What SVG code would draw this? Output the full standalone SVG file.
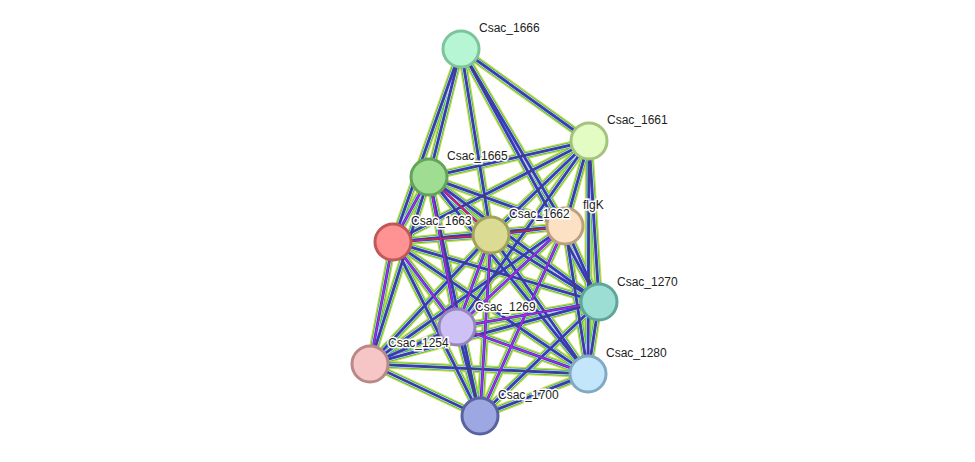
<svg xmlns="http://www.w3.org/2000/svg" xmlns:xlink="http://www.w3.org/1999/xlink" width="975" height="462" viewBox="0 0 975 462">
<style>
.y{stroke:#c5d64a;stroke-width:8}
.g{stroke:#2fc22f;stroke-width:5.5}
.w{stroke:#fff;stroke-width:4}
.b{stroke:#3a3af0;stroke-width:3}
.k{stroke:#444;stroke-width:1}
.n circle{stroke-width:3}
text{font-family:"Liberation Sans",Arial,sans-serif;font-size:12px;fill:#222;paint-order:stroke;stroke:#fff;stroke-width:3px}
</style>
<defs>
<path id="e1" d="M461,49L429,177"/><path id="e2" d="M461,49L393,242"/><path id="e3" d="M461,49L491,235"/><path id="e4" d="M461,49L565,226"/><path id="e5" d="M461,49L589,141"/>
<path id="e6" d="M589,141L429,177"/><path id="e7" d="M589,141L393,242"/><path id="e8" d="M589,141L491,235"/><path id="e9" d="M589,141L565,226"/><path id="e10" d="M589,141L599,302"/><path id="e11" d="M589,141L588,374"/><path id="e12" d="M589,141L457,327"/>
<path id="e13" d="M429,177L393,242"/><path id="e14" d="M429,177L491,235"/><path id="e15" d="M429,177L565,226"/><path id="e16" d="M429,177L599,302"/><path id="e17" d="M429,177L457,327"/><path id="e18" d="M429,177L370,364"/><path id="e19" d="M429,177L588,374"/><path id="e20" d="M429,177L480,416"/>
<path id="e21" d="M393,242L491,235"/><path id="e22" d="M393,242L565,226"/><path id="e23" d="M393,242L599,302"/><path id="e24" d="M393,242L457,327"/><path id="e25" d="M393,242L370,364"/><path id="e26" d="M393,242L588,374"/><path id="e27" d="M393,242L480,416"/>
<path id="e28" d="M491,235L565,226"/><path id="e29" d="M491,235L599,302"/><path id="e30" d="M491,235L457,327"/><path id="e31" d="M491,235L370,364"/><path id="e32" d="M491,235L588,374"/><path id="e33" d="M491,235L480,416"/>
<path id="e34" d="M565,226L599,302"/><path id="e35" d="M565,226L457,327"/><path id="e36" d="M565,226L370,364"/><path id="e37" d="M565,226L588,374"/><path id="e38" d="M565,226L480,416"/>
<path id="e39" d="M599,302L457,327"/><path id="e40" d="M599,302L370,364"/><path id="e41" d="M599,302L588,374"/><path id="e42" d="M599,302L480,416"/>
<path id="e43" d="M457,327L370,364"/><path id="e44" d="M457,327L588,374"/><path id="e45" d="M457,327L480,416"/>
<path id="e46" d="M370,364L588,374"/><path id="e47" d="M370,364L480,416"/><path id="e48" d="M588,374L480,416"/>
<path id="e49" d="M461,49L599,302"/>
</defs>
<g id="connectors" fill="none">
<g class="y"><use href="#e1"/><use href="#e2"/><use href="#e3"/><use href="#e4"/><use href="#e5"/><use href="#e6"/><use href="#e7"/><use href="#e8"/><use href="#e9"/><use href="#e10"/><use href="#e11"/><use href="#e12"/><use href="#e13"/><use href="#e14"/><use href="#e15"/><use href="#e16"/><use href="#e17"/><use href="#e18"/><use href="#e19"/><use href="#e20"/><use href="#e21"/><use href="#e22"/><use href="#e23"/><use href="#e24"/><use href="#e25"/><use href="#e26"/><use href="#e27"/><use href="#e28"/><use href="#e29"/><use href="#e30"/><use href="#e31"/><use href="#e32"/><use href="#e33"/><use href="#e34"/><use href="#e35"/><use href="#e36"/><use href="#e37"/><use href="#e38"/><use href="#e39"/><use href="#e40"/><use href="#e41"/><use href="#e42"/><use href="#e43"/><use href="#e44"/><use href="#e45"/><use href="#e46"/><use href="#e47"/><use href="#e48"/><use href="#e49"/></g>
<g class="g"><use href="#e1"/><use href="#e2"/><use href="#e3"/><use href="#e4"/><use href="#e5"/><use href="#e6"/><use href="#e7"/><use href="#e8"/><use href="#e9"/><use href="#e10"/><use href="#e11"/><use href="#e12"/><use href="#e13"/><use href="#e14"/><use href="#e15"/><use href="#e16"/><use href="#e17"/><use href="#e18"/><use href="#e19"/><use href="#e20"/><use href="#e21"/><use href="#e22"/><use href="#e23"/><use href="#e24"/><use href="#e25"/><use href="#e26"/><use href="#e27"/><use href="#e28"/><use href="#e29"/><use href="#e30"/><use href="#e31"/><use href="#e32"/><use href="#e33"/><use href="#e34"/><use href="#e35"/><use href="#e36"/><use href="#e37"/><use href="#e38"/><use href="#e39"/><use href="#e40"/><use href="#e41"/><use href="#e42"/><use href="#e43"/><use href="#e44"/><use href="#e45"/><use href="#e46"/><use href="#e47"/><use href="#e48"/><use href="#e49"/></g>
<g class="w"><use href="#e1"/><use href="#e2"/><use href="#e3"/><use href="#e4"/><use href="#e5"/><use href="#e6"/><use href="#e7"/><use href="#e8"/><use href="#e9"/><use href="#e10"/><use href="#e11"/><use href="#e12"/><use href="#e13"/><use href="#e14"/><use href="#e15"/><use href="#e16"/><use href="#e17"/><use href="#e18"/><use href="#e19"/><use href="#e20"/><use href="#e21"/><use href="#e22"/><use href="#e23"/><use href="#e24"/><use href="#e25"/><use href="#e26"/><use href="#e27"/><use href="#e28"/><use href="#e29"/><use href="#e30"/><use href="#e31"/><use href="#e32"/><use href="#e33"/><use href="#e34"/><use href="#e35"/><use href="#e36"/><use href="#e37"/><use href="#e38"/><use href="#e39"/><use href="#e40"/><use href="#e41"/><use href="#e42"/><use href="#e43"/><use href="#e44"/><use href="#e45"/><use href="#e46"/><use href="#e47"/><use href="#e48"/><use href="#e49"/></g>
<g class="b"><use href="#e1"/><use href="#e2"/><use href="#e3"/><use href="#e4"/><use href="#e5"/><use href="#e6"/><use href="#e7"/><use href="#e8"/><use href="#e9"/><use href="#e10"/><use href="#e11"/><use href="#e12"/><use href="#e13"/><use href="#e14"/><use href="#e15"/><use href="#e16"/><use href="#e17"/><use href="#e18"/><use href="#e19"/><use href="#e20"/><use href="#e21"/><use href="#e22"/><use href="#e23"/><use href="#e24"/><use href="#e25"/><use href="#e26"/><use href="#e27"/><use href="#e28"/><use href="#e29"/><use href="#e30"/><use href="#e31"/><use href="#e32"/><use href="#e33"/><use href="#e34"/><use href="#e35"/><use href="#e36"/><use href="#e37"/><use href="#e38"/><use href="#e39"/><use href="#e40"/><use href="#e41"/><use href="#e42"/><use href="#e43"/><use href="#e44"/><use href="#e45"/><use href="#e46"/><use href="#e47"/><use href="#e48"/><use href="#e49"/></g>
<g class="k"><use href="#e1"/><use href="#e2"/><use href="#e3"/><use href="#e4"/><use href="#e5"/><use href="#e6"/><use href="#e7"/><use href="#e8"/><use href="#e9"/><use href="#e10"/><use href="#e11"/><use href="#e12"/><use href="#e13"/><use href="#e14"/><use href="#e15"/><use href="#e16"/><use href="#e17"/><use href="#e18"/><use href="#e19"/><use href="#e20"/><use href="#e21"/><use href="#e22"/><use href="#e23"/><use href="#e24"/><use href="#e25"/><use href="#e26"/><use href="#e27"/><use href="#e28"/><use href="#e29"/><use href="#e30"/><use href="#e31"/><use href="#e32"/><use href="#e33"/><use href="#e34"/><use href="#e35"/><use href="#e36"/><use href="#e37"/><use href="#e38"/><use href="#e39"/><use href="#e40"/><use href="#e41"/><use href="#e42"/><use href="#e43"/><use href="#e44"/><use href="#e45"/><use href="#e46"/><use href="#e47"/><use href="#e48"/><use href="#e49"/></g>
<g stroke="#d020d0" stroke-width="1.2"><use href="#e13"/><use href="#e14"/><use href="#e17"/><use href="#e21"/><use href="#e24"/><use href="#e25"/><use href="#e30"/><use href="#e33"/><use href="#e35"/><use href="#e38"/><use href="#e39"/><use href="#e44"/></g>
<g stroke="#ee2020" stroke-width="1.2"><use href="#e14"/><use href="#e21"/><use href="#e28"/></g>
</g>
<g class="n" id="Csac_1666"><circle cx="461" cy="49" r="18" fill="#b6f6d4" stroke="#7cc49a"/><text x="479" y="32">Csac_1666</text></g>
<g class="n" id="Csac_1661"><circle cx="589" cy="141" r="18" fill="#e2fcc4" stroke="#a4c47e"/><text x="607" y="124">Csac_1661</text></g>
<g class="n" id="flgK"><circle cx="565" cy="226" r="18" fill="#fde1c4" stroke="#bea07f"/><text x="583" y="209">flgK</text></g>
<g class="n" id="Csac_1665"><circle cx="429" cy="177" r="18" fill="#9edd92" stroke="#64a35a"/><text x="447" y="160">Csac_1665</text></g>
<g class="n" id="Csac_1663"><circle cx="393" cy="242" r="18" fill="#ff9393" stroke="#c05858"/><text x="411" y="225">Csac_1663</text></g>
<g class="n" id="Csac_1662"><circle cx="491" cy="235" r="18" fill="#dcdb94" stroke="#a3a25d"/><text x="509" y="218">Csac_1662</text></g>
<g class="n" id="Csac_1270"><circle cx="599" cy="302" r="18" fill="#9cded4" stroke="#5ea59a"/><text x="617" y="286">Csac_1270</text></g>
<g class="n" id="Csac_1269"><circle cx="457" cy="327" r="18" fill="#cdc1f6" stroke="#9485bd"/><text x="475" y="311">Csac_1269</text></g>
<g class="n" id="Csac_1254"><circle cx="370" cy="364" r="18" fill="#f6c6c6" stroke="#bb8888"/><text x="388" y="347">Csac_1254</text></g>
<g class="n" id="Csac_1280"><circle cx="588" cy="374" r="18" fill="#c4e6fa" stroke="#82a9c4"/><text x="606" y="357">Csac_1280</text></g>
<g class="n" id="Csac_1700"><circle cx="480" cy="416" r="18" fill="#9da8e2" stroke="#5962a2"/><text x="498" y="399">Csac_1700</text></g>
</svg>
